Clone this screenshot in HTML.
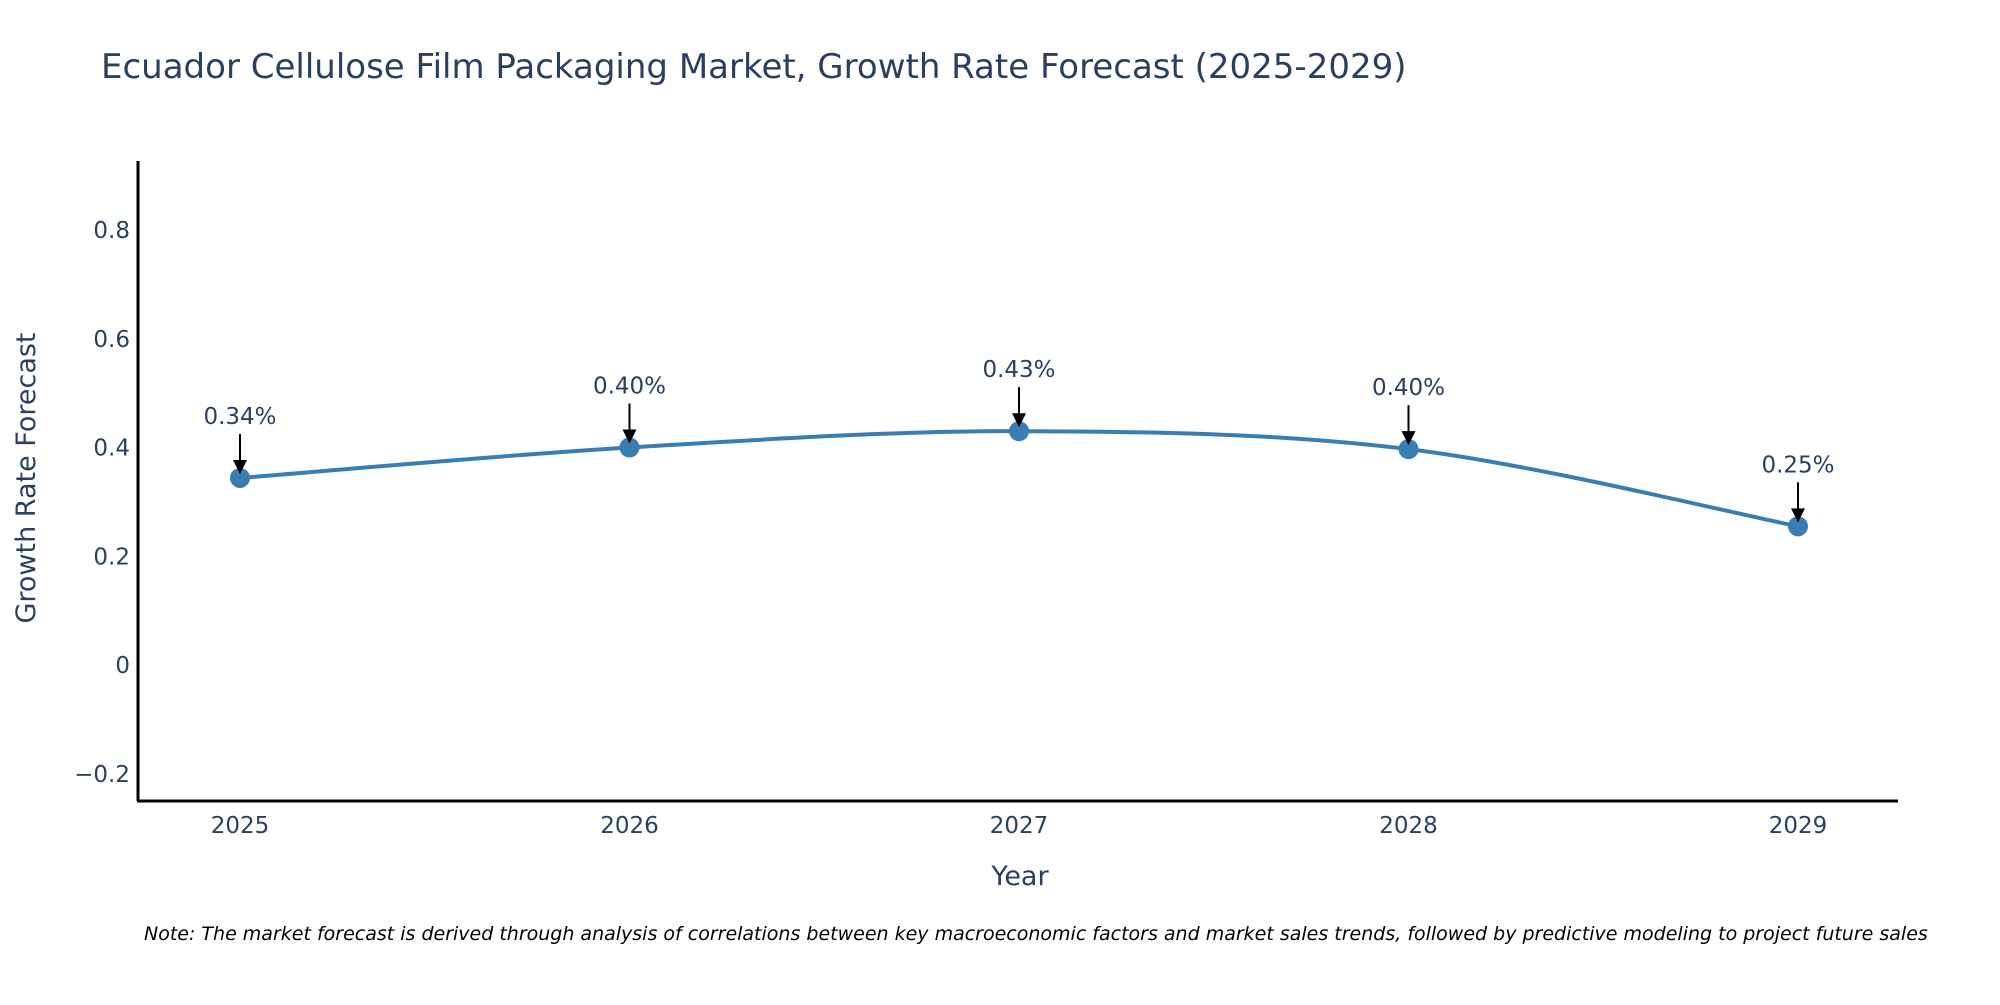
<!DOCTYPE html>
<html><head><meta charset="utf-8"><style>
body{margin:0;background:#fff;}
svg text{font-family:"DejaVu Sans","Liberation Sans",sans-serif;fill:#2a3f5f;}
</style></head><body>
<svg id="chart" width="2000" height="1000" xmlns="http://www.w3.org/2000/svg">
<rect width="2000" height="1000" fill="#fff"/>
<text x="101" y="78" font-size="34">Ecuador Cellulose Film Packaging Market, Growth Rate Forecast (2025-2029)</text>
<g id="yticks"></g>
<g id="xticks"></g>
<line x1="138" y1="161" x2="138" y2="801" stroke="#000" stroke-width="3"/>
<line x1="137" y1="801" x2="1898" y2="801" stroke="#000" stroke-width="3"/>
<text x="1020" y="885" font-size="27" text-anchor="middle">Year</text>
<text transform="translate(35,478) rotate(-90)" font-size="27" text-anchor="middle">Growth Rate Forecast</text>
<g id="series"></g>
<text x="144" y="940" font-size="19" font-style="italic" style="fill:#000">Note: The market forecast is derived through analysis of correlations between key macroeconomic factors and market sales trends, followed by predictive modeling to project future sales</text>
</svg>
<script>
const years = ["2025","2026","2027","2028","2029"];
const growth = [0.344, 0.400, 0.430, 0.397, 0.255];
const yTicks = [-0.2, 0, 0.2, 0.4, 0.6, 0.8];
const yTickLabels = ["\u22120.2","0","0.2","0.4","0.6","0.8"];
const pointLabels = ["0.34%","0.40%","0.43%","0.40%","0.25%"];

const NS="http://www.w3.org/2000/svg";
function xs(i){return 240+i*389.5;}
function ys(v){return 665-v*543.75;}
function mk(tag,attrs,parent){const e=document.createElementNS(NS,tag);for(const k in attrs)e.setAttribute(k,attrs[k]);parent.appendChild(e);return e;}

const yg=document.getElementById('yticks');
yTicks.forEach((v,i)=>{
  const t=mk('text',{x:130,y:ys(v)+8,'font-size':23,'text-anchor':'end'},yg);
  t.textContent=yTickLabels[i];
  
  
});
const xg=document.getElementById('xticks');
years.forEach((y,i)=>{
  const t=mk('text',{x:xs(i),y:833,'font-size':23,'text-anchor':'middle'},xg);
  t.textContent=y;
  
  
});

const sg=document.getElementById('series');
const P=growth.map((v,i)=>[xs(i),ys(v)]);
let d=`M${P[0][0]},${P[0][1]}`;
for(let i=0;i<P.length-1;i++){
  const p0=P[Math.max(0,i-1)],p1=P[i],p2=P[i+1],p3=P[Math.min(P.length-1,i+2)];
  const t=0.5/3;
  const c1=[p1[0]+(p2[0]-p0[0])*t,p1[1]+(p2[1]-p0[1])*t];
  const c2=[p2[0]-(p3[0]-p1[0])*t,p2[1]-(p3[1]-p1[1])*t];
  d+=` C${c1[0]},${c1[1]} ${c2[0]},${c2[1]} ${p2[0]},${p2[1]}`;
}
const line=mk('path',{d:d,fill:'none',stroke:'#3a7db3','stroke-width':4},sg);


P.forEach((p,i)=>{
  const c=mk('circle',{cx:p[0],cy:p[1],r:10,fill:'#3a7db3'},sg);
  
  
  const a=mk('line',{x1:p[0],y1:p[1]-44,x2:p[0],y2:p[1]-14,stroke:'#000','stroke-width':2},sg);
  
  
  const h=mk('polygon',{points:`${p[0]-7},${p[1]-18} ${p[0]+7},${p[1]-18} ${p[0]},${p[1]-4}`,fill:'#000'},sg);
  
  
  const t=mk('text',{x:p[0],y:p[1]-54,'font-size':23,'text-anchor':'middle'},sg);
  t.textContent=pointLabels[i];
  
  
});
</script>
</body></html>
